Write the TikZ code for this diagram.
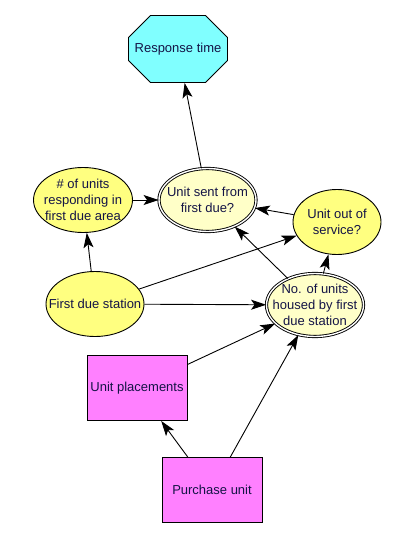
\documentclass[tikz,border=0pt]{standalone}
\usepackage{fontspec}
\setmainfont{Liberation Sans}
\usetikzlibrary{shapes.geometric,shapes.misc,arrows.meta}

\definecolor{goalcyan}{RGB}{128,255,255}
\definecolor{chanceyellow}{RGB}{255,255,128}
\definecolor{paleyellow}{RGB}{255,255,200}
\definecolor{decisionpink}{RGB}{255,128,255}
\definecolor{labelnavy}{RGB}{20,20,70}

\tikzset{
	goal/.style={chamfered rectangle, chamfered rectangle xsep=16pt, chamfered rectangle ysep=16pt,
		draw, fill=goalcyan, minimum width=99pt, minimum height=67pt, inner sep=0pt},
	chance/.style={ellipse, draw, fill=chanceyellow, minimum width=99pt, minimum height=65pt,
		inner xsep=-20pt, inner ysep=-4pt},
	derived/.style={ellipse, draw, double, double distance=1.4pt, fill=paleyellow,
		minimum width=97pt, minimum height=63pt, inner xsep=-20pt, inner ysep=-4pt},
	decision/.style={rectangle, draw, fill=decisionpink, minimum width=100pt, minimum height=65pt, inner sep=0pt},
	link/.style={-{Stealth[length=15pt,width=10pt,inset=3.5pt]}},
}

\begin{document}
\begin{tikzpicture}[x=1pt, y=-1pt, line width=0.9pt,
	every node/.append style={align=center, text=labelnavy, font=\fontsize{13pt}{16pt}\selectfont}]
\useasboundingbox (0,0) rectangle (406,540);

\node[goal] (rt) at (178,49) {Response time};
\node[chance] (nu) at (83,200) {\# of units\\responding in\\first due area};
\node[derived] (us) at (207.5,200) {Unit sent from\\first due?};
\node[chance, minimum width=88pt] (os) at (337,222) {Unit out of\\service?};
\node[chance, minimum width=98pt] (fd) at (95,304) {First due station};
\node[derived] (nh) at (315,305) {No. of units\\housed by first\\due station};
\node[decision] (up) at (137,388) {Unit placements};
\node[decision] (pu) at (212,490) {Purchase unit};

\draw[link] (us) -- (rt);
\draw[link] (nu) -- (us);
\draw[link] (fd) -- (nu);
\draw[link] (fd) -- (os);
\draw[link] (fd) -- (nh);
\draw[link] (os) -- (us);
\draw[link] (nh) -- (us);
\draw[link] (nh) -- (os);
\draw[link] (up) -- (nh);
\draw[link] (pu) -- (up);
\draw[link] (pu) -- (nh);
\end{tikzpicture}
\end{document}
